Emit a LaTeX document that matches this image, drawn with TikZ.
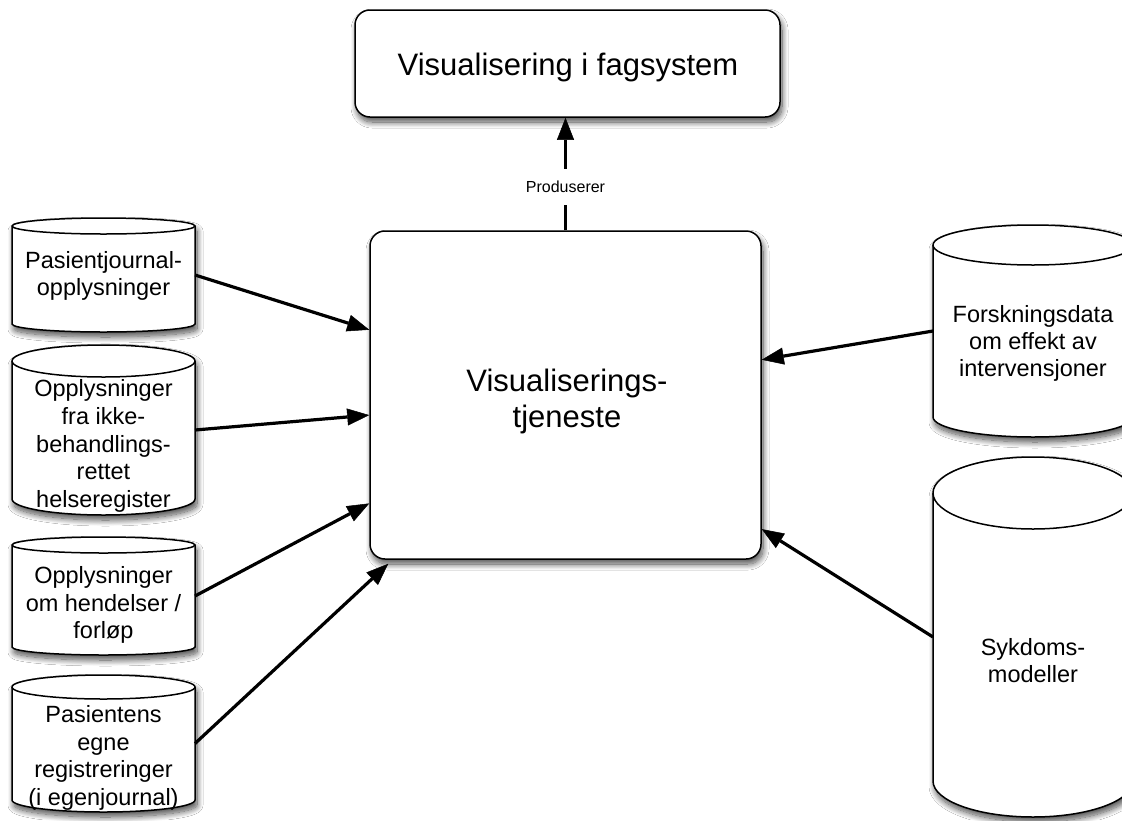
\documentclass[tikz,border=0pt]{standalone}
\usepackage{fontspec}
\setmainfont{Liberation Sans}
\usetikzlibrary{arrows.meta,shadows.blur,calc}

\tikzset{
  softshadow/.style={blur shadow={shadow xshift=2pt,shadow yshift=-5pt,
      shadow blur radius=6pt,shadow blur steps=14,shadow opacity=70}},
  roundbox/.style={draw,line width=1.5pt,rounded corners=15pt,fill=white,
      softshadow,inner sep=0pt},
  drumbody/.style={draw,line width=1.5pt,fill=white,softshadow},
  drumrim/.style={line width=1.5pt},
  arr/.style={draw=black,line width=3.2pt,
      -{Triangle[length=22pt,width=17pt,fill=black,line width=0.5pt]}},
  bigtext/.style={font=\fontsize{31}{36}\selectfont,align=center,inner sep=0pt},
  dbtext/.style={font=\fontsize{23.5}{27.8}\selectfont,align=center,inner sep=0pt},
  dbtextr/.style={font=\fontsize{23.5}{27}\selectfont,align=center,inner sep=0pt},
  anchorbox/.style={inner sep=0pt,outer sep=0pt,draw=none},
  lbl/.style={fill=white,inner xsep=4pt,inner ysep=0pt,minimum height=36pt,
      font=\fontsize{16}{19}\selectfont}
}

% database drum: name, centre x, x radius, top y, bottom y, y radius (y measured downwards)
\newcommand\dbdrum[6]{%
  \path[drumbody] (#2-#3,-#4-#6) -- (#2-#3,-#5+#6)
    arc[start angle=180,end angle=360,x radius=#3,y radius=#6]
    -- (#2+#3,-#4-#6)
    arc[start angle=0,end angle=180,x radius=#3,y radius=#6] -- cycle;
  \draw[drumrim] (#2-#3,-#4-#6)
    arc[start angle=180,end angle=360,x radius=#3,y radius=#6];
  \node[anchorbox,minimum width=2*#3,minimum height=#5-#4] (#1) at (#2,-#4/2-#5/2) {};
}

\begin{document}
\begin{tikzpicture}[x=1pt,y=1pt]
\useasboundingbox (0,0) rectangle (1122,-820);
\fill[white] (0,0) rectangle (1122,-820);

% output and service boxes
\node[roundbox,minimum width=425pt,minimum height=107pt] (vis) at (567.5,-63.5) {};
\node[bigtext] (vis-t) at (568,-67) {Visualisering i fagsystem};
\node[roundbox,minimum width=391pt,minimum height=328pt] (tj) at (565.5,-395) {};
\node[bigtext] (tj-t) at (567,-401) {Visualiserings-\\tjeneste};

% data sources on the left
\dbdrum{pj}{103.5}{91.5}{218}{332}{8}
\dbdrum{hr}{103.5}{91.5}{345}{515}{16}
\dbdrum{hf}{103.5}{91.5}{537}{655}{8}
\dbdrum{eg}{103.5}{91.5}{675}{812}{12}
% data sources on the right
\dbdrum{fd}{1033}{100}{225}{437}{20}
\dbdrum{sm}{1033}{100}{457}{817}{36}

\node[dbtext] (pj-t) at (103.5,-276) {Pasientjournal-\\opplysninger};
\node[dbtext] (hr-t) at (103.5,-446) {Opplysninger\\fra ikke-\\behandlings-\\rettet\\helseregister};
\node[dbtext] (hf-t) at (103.5,-605) {Opplysninger\\om hendelser /\\forløp};
\node[dbtext] (eg-t) at (103.5,-758) {Pasientens\\egne\\registreringer\\(i egenjournal)};
\node[dbtextr] (fd-t) at (1033,-343) {Forskningsdata\\om effekt av\\intervensjoner};
\node[dbtextr] (sm-t) at (1033,-661) {Sykdoms-\\modeller};

% connectors
\draw[arr] (tj.north) -- node[lbl,pos=0.386] {Produserer} (tj.north |- vis.south);
\draw[arr] (pj.east) -- ($(tj.north west)!0.302!(tj.south west)$);
\draw[arr] (hr.east) -- ($(tj.north west)!0.561!(tj.south west)$);
\draw[arr] (hf.east) -- ($(tj.north west)!0.829!(tj.south west)$);
\draw[arr] (eg.east) -- ([shift={(19,-4)}]tj.south west);
\draw[arr] (fd.west) -- ($(tj.north east)!0.393!(tj.south east)$);
\draw[arr] (sm.west) -- ($(tj.north east)!0.907!(tj.south east)$);
\end{tikzpicture}
\end{document}
